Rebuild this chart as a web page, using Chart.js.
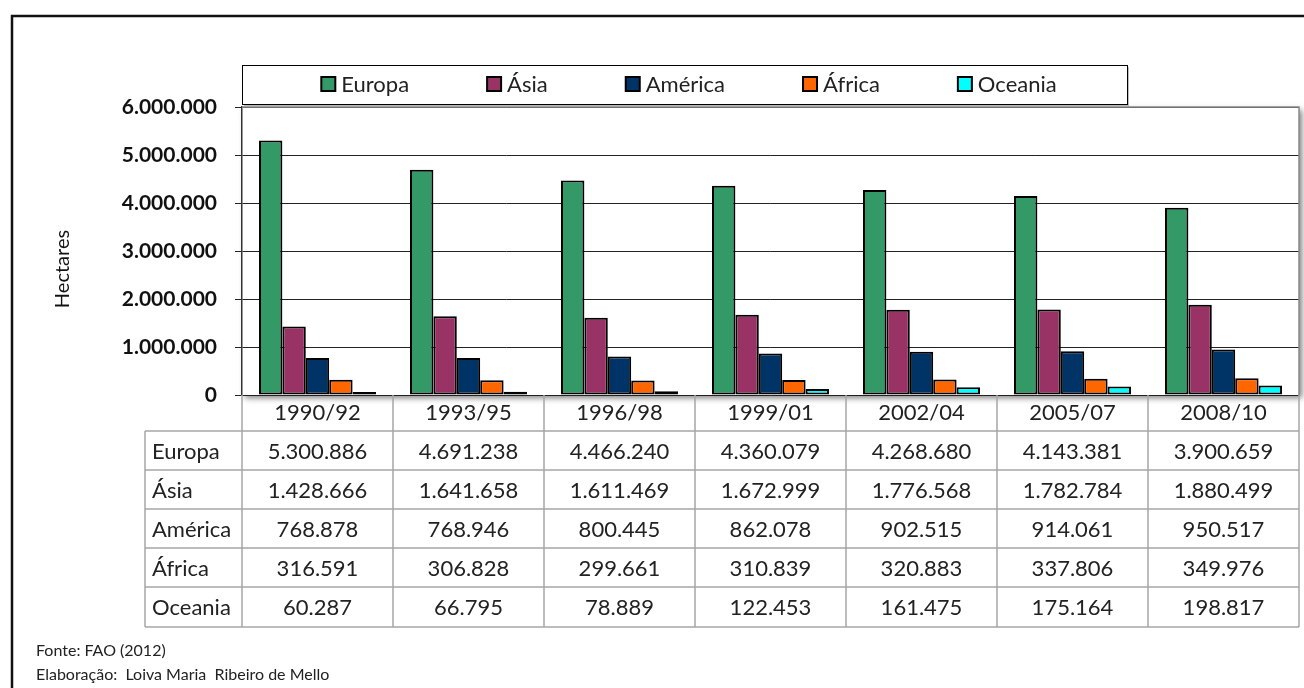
<!DOCTYPE html>
<html>
<head>
<meta charset="utf-8">
<title>Área cultivada - FAO</title>
<script src="https://cdn.jsdelivr.net/npm/chart.js@4.4.1/dist/chart.umd.min.js"></script>
<style>
    html, body { margin: 0; padding: 0; background: #fff; }
    #wrap { width: 1304px; height: 688px; position: relative; }
</style>
</head>
<body>
<div id="wrap"><canvas id="grafico" width="1304" height="688"></canvas></div>
<script>
var periodos = ['1990/92', '1993/95', '1996/98', '1999/01', '2002/04', '2005/07', '2008/10'];
var europa = [5300886, 4691238, 4466240, 4360079, 4268680, 4143381, 3900659];
var asia = [1428666, 1641658, 1611469, 1672999, 1776568, 1782784, 1880499];
var america = [768878, 768946, 800445, 862078, 902515, 914061, 950517];
var africa = [316591, 306828, 299661, 310839, 320883, 337806, 349976];
var oceania = [60287, 66795, 78889, 122453, 161475, 175164, 198817];
var eixoY = [0, 1000000, 2000000, 3000000, 4000000, 5000000, 6000000];

var FONTE = 'Lato, "Open Sans", sans-serif';

function formatar(v) {
    return String(v).replace(/\B(?=(\d{3})+(?!\d))/g, '.');
}

// moldura, sombra da área do gráfico, legenda, tabela e rodapé
var extras = {
    id: 'extras',
    beforeDraw: function (chart) {
        var ctx = chart.ctx;
        var a = chart.chartArea;
        ctx.save();
        ctx.fillStyle = '#fff';
        ctx.fillRect(0, 0, chart.width, chart.height);
        // moldura externa
        ctx.strokeStyle = '#111';
        ctx.lineWidth = 2.5;
        ctx.strokeRect(12, 16, 1400, 800);
        // sombra da área de plotagem
        ctx.shadowColor = 'rgba(0,0,0,0.5)';
        ctx.shadowBlur = 6;
        ctx.shadowOffsetX = 3;
        ctx.shadowOffsetY = 3;
        ctx.fillStyle = '#fff';
        ctx.fillRect(a.left, a.top, a.right - a.left, a.bottom - a.top);
        ctx.restore();
    },
    afterDraw: function (chart) {
        var ctx = chart.ctx;
        var a = chart.chartArea;
        var x = chart.scales.x;
        ctx.save();
        // borda superior e direita
        ctx.strokeStyle = '#8a8a8a';
        ctx.lineWidth = 1.5;
        ctx.beginPath();
        ctx.moveTo(a.left, a.top);
        ctx.lineTo(a.right, a.top);
        ctx.lineTo(a.right, a.bottom);
        ctx.stroke();

        // legenda
        var lx0 = 242, ly0 = 65, lx1 = 1127, ly1 = 104;
        ctx.fillStyle = 'rgba(0,0,0,0.25)';
        ctx.fillRect(lx0 + 2, ly0 + 2, lx1 - lx0, ly1 - ly0);
        ctx.fillStyle = '#fff';
        ctx.fillRect(lx0, ly0, lx1 - lx0, ly1 - ly0);
        ctx.strokeStyle = '#000';
        ctx.lineWidth = 1;
        ctx.strokeRect(lx0 + 0.5, ly0 + 0.5, lx1 - lx0, ly1 - ly0);
        ctx.font = '22px ' + FONTE;
        ctx.textBaseline = 'middle';
        ctx.textAlign = 'left';
        var gap = 78, caixa = 14, sep = 6;
        var total = 0;
        chart.data.datasets.forEach(function (ds, i) {
            total += caixa + sep + ctx.measureText(ds.label).width;
            if (i > 0) total += gap;
        });
        var px = 689 - total / 2;
        var ly = 84;
        chart.data.datasets.forEach(function (ds) {
            ctx.fillStyle = ds.backgroundColor;
            ctx.fillRect(px, ly - 7, caixa, caixa);
            ctx.strokeStyle = '#000';
            ctx.lineWidth = 2;
            ctx.strokeRect(px, ly - 7, caixa, caixa);
            ctx.fillStyle = '#222';
            ctx.fillText(ds.label, px + caixa + sep, ly + 1);
            px += caixa + sep + ctx.measureText(ds.label).width + gap;
        });

        // título do eixo Y
        ctx.save();
        ctx.translate(63, 269);
        ctx.rotate(-Math.PI / 2);
        ctx.textAlign = 'center';
        ctx.font = '20px ' + FONTE;
        ctx.fillStyle = '#111';
        ctx.fillText('Hectares', 0, 0);
        ctx.restore();

        // tabela de dados
        var n = periodos.length;
        var bordas = [a.left];
        for (var i = 0; i < n - 1; i++) {
            bordas.push((x.getPixelForValue(i) + x.getPixelForValue(i + 1)) / 2);
        }
        bordas.push(a.right);
        var linhas = [431, 470, 509, 548, 587, 627];
        var rotuloX = 145;
        ctx.strokeStyle = '#a6a6a6';
        ctx.lineWidth = 1.5;
        ctx.beginPath();
        bordas.forEach(function (bx) {
            ctx.moveTo(bx, a.bottom);
            ctx.lineTo(bx, linhas[linhas.length - 1]);
        });
        ctx.moveTo(rotuloX, linhas[0]);
        ctx.lineTo(rotuloX, linhas[linhas.length - 1]);
        linhas.forEach(function (ly) {
            ctx.moveTo(rotuloX, ly);
            ctx.lineTo(a.right, ly);
        });
        ctx.stroke();

        ctx.font = '22px ' + FONTE;
        ctx.fillStyle = '#222';
        chart.data.datasets.forEach(function (ds, r) {
            var cy = (linhas[r] + linhas[r + 1]) / 2 + 1;
            ctx.textAlign = 'left';
            ctx.fillText(ds.label, rotuloX + 7, cy);
            ctx.textAlign = 'center';
            ds.data.forEach(function (v, c) {
                ctx.fillText(formatar(v), x.getPixelForValue(c), cy);
            });
        });

        // rodapé
        ctx.textAlign = 'left';
        ctx.font = '16px ' + FONTE;
        ctx.fillStyle = '#222';
        ctx.fillText('Fonte: FAO (2012)', 36, 651);
        ctx.fillText('Elaboração:  Loiva Maria  Ribeiro de Mello', 36, 675);
        ctx.restore();
    }
};

var ctx = document.getElementById('grafico').getContext('2d');
var _grafico = new Chart(ctx, {
    type: 'bar',
    data: {
        labels: periodos,
        datasets: [
            { label: 'Europa', data: europa, backgroundColor: '#339966' },
            { label: 'Ásia', data: asia, backgroundColor: '#993366' },
            { label: 'América', data: america, backgroundColor: '#003366' },
            { label: 'África', data: africa, backgroundColor: '#ff6600' },
            { label: 'Oceania', data: oceania, backgroundColor: '#00ffff' }
        ].map(function (ds) {
            ds.borderColor = '#000';
            ds.borderWidth = 2;
            ds.borderSkipped = false;
            ds.barPercentage = 1;
            ds.categoryPercentage = 0.775;
            return ds;
        })
    },
    options: {
        responsive: false,
        animation: false,
        events: [],
        layout: { padding: { top: 107, right: 5, bottom: 257, left: 0 } },
        plugins: {
            legend: { display: false },
            tooltip: { enabled: false }
        },
        scales: {
            x: {
                grid: { display: false, drawTicks: false },
                border: { display: false },
                ticks: {
                    padding: 5,
                    color: '#222',
                    font: { family: FONTE, size: 22 }
                },
                afterFit: function (s) { s.height = 36; }
            },
            y: {
                min: 0,
                max: 6000000,
                afterBuildTicks: function (s) {
                    s.ticks = eixoY.map(function (v) { return { value: v }; });
                },
                grid: { color: '#222', lineWidth: 1, tickLength: 7 },
                border: { color: '#333', width: 1.5 },
                ticks: {
                    padding: 18,
                    color: '#111',
                    font: { family: FONTE, size: 21, weight: 'bold' },
                    callback: function (v) { return formatar(v); }
                },
                afterFit: function (s) { s.width = 242; }
            }
        }
    },
    plugins: [extras]
});
</script>
</body>
</html>
